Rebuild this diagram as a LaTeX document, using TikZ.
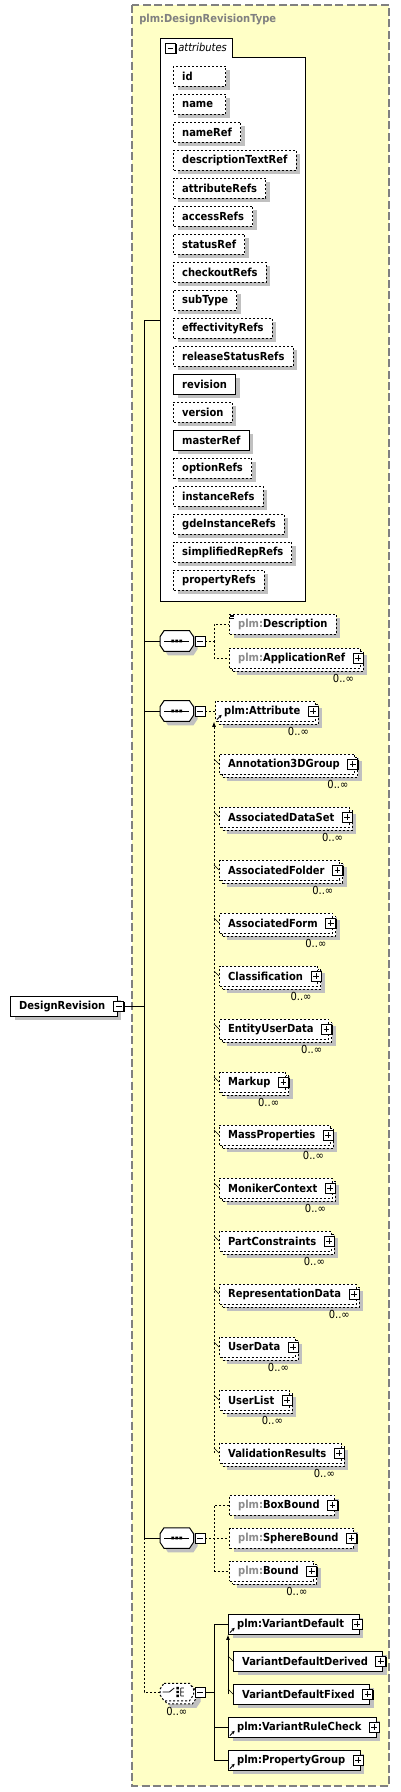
\documentclass[tikz,border=0pt]{standalone}
\usepackage{fontspec}
\setmainfont{DejaVu Sans Condensed}
\usetikzlibrary{positioning, arrows.meta, shadows}
\definecolor{typefill}{HTML}{FFFFC6}
\definecolor{typeline}{HTML}{808080}
\definecolor{shade}{HTML}{C0C0C0}
\definecolor{nsgray}{HTML}{8C8C8C}
\newcommand\dsz{\fontsize{8.3pt}{10pt}\selectfont}
\newcommand\pfx{\textcolor{nsgray}{plm:}}
\tikzset{
  wire/.style={line width=0.75pt},
  opt/.style={dash pattern=on 1.5pt off 1.5pt},
  shd/.style={general shadow={fill=shade, shadow xshift=3pt, shadow yshift=-3pt}},
  elem/.style={draw, fill=white, shd, font=\dsz\bfseries, anchor=west,
    minimum height=15pt, inner xsep=6.5pt, inner ysep=0pt, line width=0.75pt},
  att/.style={elem, opt, minimum width=39pt},
  attreq/.style={elem, minimum width=39pt},
  short/.style={text width=26pt, align=left},
  many/.style={general shadow={fill=shade, shadow xshift=5.25pt, shadow yshift=-5.25pt},
    general shadow={draw, opt, fill=white, line width=0.75pt, shadow xshift=2.25pt, shadow yshift=-2.25pt}},
  pbox/.style={draw, fill=white, solid, line width=0.6pt, minimum size=7.5pt, inner sep=0pt,
    general shadow={fill=black, shadow xshift=0.8pt, shadow yshift=-0.8pt},
    path picture={
      \draw[solid, line width=0.6pt] ([xshift=1.6pt]path picture bounding box.west) -- ([xshift=-1.6pt]path picture bounding box.east)
        ([yshift=-1.6pt]path picture bounding box.north) -- ([yshift=1.6pt]path picture bounding box.south);}},
  mbox/.style={draw, fill=white, solid, line width=0.6pt, minimum size=7.5pt, inner sep=0pt,
    general shadow={fill=black, shadow xshift=0.8pt, shadow yshift=-0.8pt},
    path picture={
      \draw[solid, line width=0.6pt] ([xshift=1.6pt]path picture bounding box.west) -- ([xshift=-1.6pt]path picture bounding box.east);}},
  plus/.style={execute at end node={\hspace{4.75pt}},
    append after command={([xshift=-1.9pt]\tikzlastnode.east) node[pbox] {}}},
  ref/.style={prefix after command={([shift={(1.5pt,1.5pt)}]\tikzlastnode.south west)
    edge[solid, line width=0.6pt, -{Stealth[length=2.5pt, width=2.5pt]}] +(3.5pt,3.5pt)}},
  mult/.style={font=\dsz, inner sep=0pt},
  comp/.style={minimum width=24.75pt, minimum height=15pt, inner sep=0pt, anchor=west},
  typeframe/.style={fill=typefill, draw=typeline, line width=1.1pt, dash pattern=on 6pt off 2.5pt},
  typename/.style={font=\dsz\bfseries, text=typeline, anchor=west, inner sep=0pt}
}
% octagon round a compositor node
\newcommand\octo[2]{%
  \draw[fill=white, line width=0.75pt, #2] ([xshift=3pt]#1.north west) -- ([xshift=-3pt]#1.north east)
    -- ([yshift=-4.5pt]#1.north east) -- ([yshift=4.5pt]#1.south east) -- ([xshift=-3pt]#1.south east)
    -- ([xshift=3pt]#1.south west) -- ([yshift=4.5pt]#1.south west) -- ([yshift=-4.5pt]#1.north west) -- cycle;}
\newcommand\seqicon[1]{%
  \octo{#1}{shd}
  \draw[line width=0.75pt] ([xshift=-9.4pt]#1.center) -- ([xshift=9.4pt]#1.center);
  \fill ([shift={(-4.1pt,-1.1pt)}]#1.center) rectangle +(2.2pt,2.2pt)
    ([shift={(-1.1pt,-1.1pt)}]#1.center) rectangle +(2.2pt,2.2pt)
    ([shift={(1.9pt,-1.1pt)}]#1.center) rectangle +(2.2pt,2.2pt);}
\newcommand\chcicon[1]{%
  \octo{#1}{opt, many}
  \draw[line width=0.6pt] ([xshift=-10.6pt]#1.center) -- ([xshift=-5.6pt]#1.center) -- ([shift={(-1.9pt,3pt)}]#1.center)
    ([shift={(3pt,3pt)}]#1.center) -- ([shift={(3pt,-3pt)}]#1.center)
    ([shift={(3pt,3pt)}]#1.center) -- +(2.4pt,0)
    ([shift={(3pt,0pt)}]#1.center) -- +(2.4pt,0)
    ([shift={(3pt,-3pt)}]#1.center) -- +(2.4pt,0);
  \fill ([shift={(-0.3pt,2pt)}]#1.center) rectangle +(1.8pt,1.8pt)
    ([shift={(-0.3pt,-0.9pt)}]#1.center) rectangle +(1.8pt,1.8pt)
    ([shift={(-0.3pt,-3.8pt)}]#1.center) rectangle +(1.8pt,1.8pt);}

\begin{document}
\begin{tikzpicture}[x=0.75pt, y=-0.75pt]
  \useasboundingbox (0,0) rectangle (400,1792);

  % Type frame
  \draw[typeframe] (132,5) rectangle (389,1786);
  \node[typename] (tname) at (139,19) {plm:DesignRevisionType};

  % Attributes
  \node[fill=white, anchor=north west, text width=48pt, inner xsep=3pt, inner ysep=0pt,
    minimum height=14.25pt, align=left, font=\dsz\itshape] (atab) at (160,38) {\hspace*{10.5pt}attributes};
  \node[fill=white, anchor=north west, minimum width=108.75pt, minimum height=408pt, inner sep=0pt] (abox) at (160,57) {};
  \draw[wire] (abox.south west) |- (atab.north east) -- (atab.south east) -| (abox.south east) -- cycle;
  \node[mbox] (atabm) at (170.5,48) {};

  \node[att, short] (aid) at (173,76) {id};
  \node[att, short] (aname) at (173,104) {name};
  \node[att] (anameref) at (173,132) {nameRef};
  \node[att] (adesc) at (173,160) {descriptionTextRef};
  \node[att] (aattrs) at (173,188) {attributeRefs};
  \node[att] (aaccess) at (173,216) {accessRefs};
  \node[att] (astatus) at (173,244) {statusRef};
  \node[att] (acheck) at (173,272) {checkoutRefs};
  \node[att] (asub) at (173,300) {subType};
  \node[att] (aeff) at (173,328) {effectivityRefs};
  \node[att] (arel) at (173,356) {releaseStatusRefs};
  \node[attreq] (arev) at (173,384) {revision};
  \node[att] (aver) at (173,412) {version};
  \node[attreq] (amaster) at (173,440) {masterRef};
  \node[att] (aopt) at (173,468) {optionRefs};
  \node[att] (ainst) at (173,496) {instanceRefs};
  \node[att] (agde) at (173,524) {gdeInstanceRefs};
  \node[att] (asimp) at (173,552) {simplifiedRepRefs};
  \node[att] (aprop) at (173,580) {propertyRefs};

  % Root element
  \node[elem, execute at end node={\hspace{2.5pt}}] (dr) at (10,1006) {DesignRevision};
  \node[mbox] (drm) at ([xshift=0.75pt]dr.east) {};

  % First sequence
  \node[comp] (seqA) at (160,641) {};
  \seqicon{seqA}
  \node[mbox, right=0.75pt of seqA] (seqAm) {};
  \node[elem, opt] (desc) at (229,624) {\pfx Description};
  \draw[line width=0.5pt] ([shift={(1pt,-1pt)}]desc.north west) -- +(3pt,0)
    ([shift={(1pt,-2.3pt)}]desc.north west) -- +(3pt,0)
    ([shift={(1pt,-3.6pt)}]desc.north west) -- +(3pt,0);
  \node[elem, opt, many, plus] (appref) at (229,658) {\pfx ApplicationRef};
  \node[mult, below left=4pt and 5pt of appref.south east] (apprefn) {0..∞};

  % Second sequence
  \node[comp] (seqB) at (160,711) {};
  \seqicon{seqB}
  \node[mbox, right=0.75pt of seqB] (seqBm) {};
  \node[elem, opt, many, ref, plus] (attr) at (215,711) {plm:Attribute};
  \node[mult, below left=4pt and 5pt of attr.south east] (attrn) {0..∞};

  \node[elem, opt, many, plus] (ann) at (219,764) {Annotation3DGroup};
  \node[mult, below left=4pt and 5pt of ann.south east] (annn) {0..∞};
  \node[elem, opt, many, plus] (ads) at (219,817) {AssociatedDataSet};
  \node[mult, below left=4pt and 5pt of ads.south east] (adsn) {0..∞};
  \node[elem, opt, many, plus] (afo) at (219,870) {AssociatedFolder};
  \node[mult, below left=4pt and 5pt of afo.south east] (afon) {0..∞};
  \node[elem, opt, many, plus] (afm) at (219,923) {AssociatedForm};
  \node[mult, below left=4pt and 5pt of afm.south east] (afmn) {0..∞};
  \node[elem, opt, many, plus] (cls) at (219,976) {Classification};
  \node[mult, below left=4pt and 5pt of cls.south east] (clsn) {0..∞};
  \node[elem, opt, many, plus] (eud) at (219,1029) {EntityUserData};
  \node[mult, below left=4pt and 5pt of eud.south east] (eudn) {0..∞};
  \node[elem, opt, many, plus] (mkp) at (219,1082) {Markup};
  \node[mult, below left=4pt and 5pt of mkp.south east] (mkpn) {0..∞};
  \node[elem, opt, many, plus] (mas) at (219,1135) {MassProperties};
  \node[mult, below left=4pt and 5pt of mas.south east] (masn) {0..∞};
  \node[elem, opt, many, plus] (mon) at (219,1188) {MonikerContext};
  \node[mult, below left=4pt and 5pt of mon.south east] (monn) {0..∞};
  \node[elem, opt, many, plus] (pcs) at (219,1241) {PartConstraints};
  \node[mult, below left=4pt and 5pt of pcs.south east] (pcsn) {0..∞};
  \node[elem, opt, many, plus] (rep) at (219,1294) {RepresentationData};
  \node[mult, below left=4pt and 5pt of rep.south east] (repn) {0..∞};
  \node[elem, opt, many, plus] (udt) at (219,1347) {UserData};
  \node[mult, below left=4pt and 5pt of udt.south east] (udtn) {0..∞};
  \node[elem, opt, many, plus] (ulst) at (219,1400) {UserList};
  \node[mult, below left=4pt and 5pt of ulst.south east] (ulstn) {0..∞};
  \node[elem, opt, many, plus] (valr) at (219,1453) {ValidationResults};
  \node[mult, below left=4pt and 5pt of valr.south east] (valrn) {0..∞};

  % Third sequence
  \node[comp] (seqC) at (160,1538) {};
  \seqicon{seqC}
  \node[mbox, right=0.75pt of seqC] (seqCm) {};
  \node[elem, opt, plus] (boxb) at (229,1505) {\pfx BoxBound};
  \node[elem, opt, plus] (sphb) at (229,1538) {\pfx SphereBound};
  \node[elem, opt, many, plus] (bnd) at (229,1571) {\pfx Bound};
  \node[mult, below left=4pt and 5pt of bnd.south east] (bndn) {0..∞};

  % Choice
  \node[comp, minimum height=12.75pt] (chc) at (160,1692) {};
  \chcicon{chc}
  \node[mbox, right=0.75pt of chc] (chcm) {};
  \node[mult, below=5pt of chc] (chcn) {0..∞};
  \node[elem, ref, plus] (vdef) at (228,1624) {plm:VariantDefault};
  \node[elem, plus] (vdd) at (233,1661) {VariantDefaultDerived};
  \node[elem, plus] (vdf) at (233,1694) {VariantDefaultFixed};
  \node[elem, ref, plus] (vrc) at (228,1727) {plm:VariantRuleCheck};
  \node[elem, ref, plus] (pgrp) at (228,1760) {plm:PropertyGroup};

  % Spine
  \coordinate (spine) at (144,320);
  \draw[wire] (spine) -- (spine -| abox.west);
  \draw[wire] (spine) -- (spine |- seqC.west);
  \draw[wire, opt] (spine |- seqC.west) |- (chc.west);
  \draw[wire] (drm.east) -- (drm.east -| spine);
  \draw[wire] (seqA.west -| spine) -- (seqA.west);
  \draw[wire] (seqB.west -| spine) -- (seqB.west);
  \draw[wire] (seqC.west -| spine) -- (seqC.west);

  % Sequence links
  \coordinate (jA) at ([xshift=6.75pt]seqAm.east);
  \draw[wire, opt] (seqAm.east) -- (jA) |- (desc.west);
  \draw[wire, opt] (jA) |- (appref.west);
  \draw[wire, opt] (seqBm.east) -- (attr.west);
  \coordinate (jC) at ([xshift=6.75pt]seqCm.east);
  \draw[wire, opt] (seqCm.east) -- (sphb.west);
  \draw[wire, opt] (boxb.west) -| (jC) |- (bnd.west);

  % Substitution group of plm:Attribute
  \draw[wire, opt, -{Latex[length=4pt, width=3pt]}] ([xshift=-3.75pt]valr.west) -- ([xshift=-3.75pt]valr.west |- attr.south);
  \draw[line width=0.5pt] (ann.west) -- ++(-3.75pt,3.75pt) (ads.west) -- ++(-3.75pt,3.75pt)
    (afo.west) -- ++(-3.75pt,3.75pt) (afm.west) -- ++(-3.75pt,3.75pt)
    (cls.west) -- ++(-3.75pt,3.75pt) (eud.west) -- ++(-3.75pt,3.75pt)
    (mkp.west) -- ++(-3.75pt,3.75pt) (mas.west) -- ++(-3.75pt,3.75pt)
    (mon.west) -- ++(-3.75pt,3.75pt) (pcs.west) -- ++(-3.75pt,3.75pt)
    (rep.west) -- ++(-3.75pt,3.75pt) (udt.west) -- ++(-3.75pt,3.75pt)
    (ulst.west) -- ++(-3.75pt,3.75pt) (valr.west) -- ++(-3.75pt,3.75pt);

  % Choice links
  \coordinate (jD) at ([xshift=6.75pt]chcm.east);
  \draw[wire] (chcm.east) -- (jD);
  \draw[wire] (vdef.west) -| (jD) |- (pgrp.west);
  \draw[wire] (jD) |- (vrc.west);
  \draw[wire, -{Latex[length=4pt, width=3pt]}] ([xshift=-3.75pt]vdf.west) -- ([xshift=-3.75pt]vdf.west |- vdef.south);
  \draw[line width=0.5pt] (vdd.west) -- ++(-3.75pt,3.75pt) (vdf.west) -- ++(-3.75pt,3.75pt);

\end{tikzpicture}
\end{document}
